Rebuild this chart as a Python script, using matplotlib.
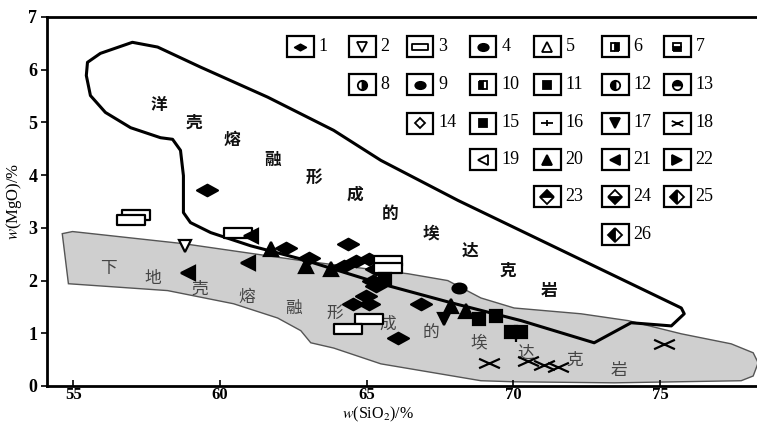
import matplotlib
matplotlib.use("Agg")
import matplotlib.pyplot as plt
from matplotlib.path import Path
from matplotlib.patches import Polygon, Rectangle
import numpy as np

plt.rcParams['font.family'] = ['Liberation Serif', 'Noto Sans CJK SC', 'DejaVu Sans']
plt.rcParams['mathtext.fontset'] = 'stix'

# ---------------- data ----------------
# ocean-crust adakite field outline (SiO2, MgO)
ocean_x = [55.48, 55.44, 55.58, 56.09, 56.95, 57.97, 58.38, 58.65, 58.75, 58.75, 58.99, 59.68,
           61.04, 62.75, 65.48, 67.87, 70.26, 72.75, 74.01, 75.38, 75.82, 75.72, 68.11, 65.48,
           63.87, 61.62, 59.33, 57.87, 57.01, 55.92]
ocean_y = [6.14, 5.89, 5.51, 5.19, 4.90, 4.71, 4.68, 4.47, 3.99, 3.29, 3.10, 2.91,
           2.66, 2.41, 1.94, 1.58, 1.24, 0.82, 1.20, 1.14, 1.37, 1.48, 3.52, 4.28,
           4.85, 5.48, 6.05, 6.43, 6.52, 6.31]
# lower-crust adakite field outline
lower_x = [54.62, 54.97, 58.75, 62.75, 65.48, 66.40, 67.76, 68.89, 70.02, 72.30, 73.91, 75.72,
           77.42, 78.17, 78.34, 78.17, 77.76, 73.43, 70.02, 68.89, 65.48, 63.87, 63.09, 62.75,
           61.96, 60.46, 58.21, 54.83]
lower_y = [2.89, 2.93, 2.70, 2.38, 2.19, 2.13, 2.00, 1.67, 1.48, 1.37, 1.24, 0.99,
           0.80, 0.63, 0.44, 0.19, 0.10, 0.06, 0.08, 0.10, 0.42, 0.72, 0.82, 1.05,
           1.29, 1.56, 1.81, 1.94]

# samples by legend type
t1_x = [59.57, 62.24, 63.02, 64.35, 64.22, 64.62, 65.07, 65.31, 65.20, 64.97, 64.52, 65.07, 66.06, 66.84, 65.31]
t1_y = [3.71, 2.62, 2.43, 2.70, 2.28, 2.38, 2.41, 2.22, 2.00, 1.71, 1.56, 1.56, 0.91, 1.56, 1.90]
t2_x = [58.82]
t2_y = [2.66]
t3_x = [57.12, 56.98, 60.60, 65.72, 65.72, 65.07, 64.35]
t3_y = [3.25, 3.14, 2.91, 2.38, 2.24, 1.27, 1.08]
t4_x = [68.14]
t4_y = [1.86]
t15_x = [68.82, 69.40, 69.91, 70.26, 65.61]
t15_y = [1.27, 1.33, 1.03, 1.03, 2.03]
t16_x = [70.09]
t16_y = [0.95]
t17_x = [67.63]
t17_y = [1.27]
t18_x = [69.16, 70.49, 71.04, 71.52, 75.14]
t18_y = [0.44, 0.48, 0.40, 0.36, 0.80]
t20_x = [61.72, 62.92, 63.77, 67.87, 68.38]
t20_y = [2.60, 2.28, 2.22, 1.52, 1.43]
t21_x = [58.92, 60.94, 61.04]
t21_y = [2.15, 2.34, 2.85]

legend_labels = [str(i) for i in range(1, 27)]

ocean_text = "洋壳熔融形成的埃达克岩"
lower_text = "下地壳熔融形成的埃达克岩"
ocean_text_x = [57.9, 59.1, 60.4, 61.8, 63.2, 64.6, 65.8, 67.2, 68.5, 69.8, 71.2]
ocean_text_y = [5.33, 5.00, 4.67, 4.28, 3.95, 3.63, 3.27, 2.89, 2.56, 2.19, 1.81]
lower_text_x = [56.2, 57.7, 59.3, 60.9, 62.5, 63.9, 65.7, 67.2, 68.8, 70.4, 72.1, 73.6]
lower_text_y = [2.22, 2.03, 1.84, 1.67, 1.48, 1.37, 1.18, 0.99, 0.82, 0.63, 0.48, 0.29]

# ---------------- marker shapes ----------------
flat_diamond = Path([(-1, 0), (0, 0.55), (1, 0), (0, -0.55), (-1, 0)],
                    [Path.MOVETO, Path.LINETO, Path.LINETO, Path.LINETO, Path.CLOSEPOLY])
flat_rect = Path([(-1, -0.33), (1, -0.33), (1, 0.33), (-1, 0.33), (-1, -0.33)],
                 [Path.MOVETO, Path.LINETO, Path.LINETO, Path.LINETO, Path.CLOSEPOLY])
flat_x = Path([(-1, -0.45), (1, 0.45), (-1, 0.45), (1, -0.45)],
              [Path.MOVETO, Path.LINETO, Path.MOVETO, Path.LINETO])
flat_plus = Path([(-1, 0), (1, 0), (0, -0.5), (0, 0.5)],
                 [Path.MOVETO, Path.LINETO, Path.MOVETO, Path.LINETO])
flat_ell = Path.unit_circle().transformed(matplotlib.transforms.Affine2D().scale(1, 0.7))

K = 'black'
W = 'white'
# (marker, facecolor, fillstyle, size)
styles = {
    1: (flat_diamond, K, 'full', 15),
    2: ('v', W, 'full', 9),
    3: (flat_rect, W, 'full', 20),
    4: (flat_ell, K, 'full', 10),
    5: ('^', W, 'full', 9),
    6: ('s', K, 'right', 8),
    7: ('s', K, 'bottom', 8),
    8: ('o', K, 'right', 9),
    9: (flat_ell, K, 'full', 10),
    10: ('s', K, 'left', 8),
    11: ('s', K, 'full', 7),
    12: ('o', K, 'left', 9),
    13: ('o', K, 'top', 9),
    14: ('D', W, 'full', 7),
    15: ('s', K, 'full', 8),
    16: (flat_plus, K, 'full', 16),
    17: ('v', K, 'full', 9),
    18: (flat_x, K, 'full', 15),
    19: ('<', W, 'full', 9),
    20: ('^', K, 'full', 10),
    21: ('<', K, 'full', 10),
    22: ('>', K, 'full', 9),
    23: ('D', K, 'top', 9),
    24: ('D', K, 'bottom', 9),
    25: ('D', K, 'left', 9),
    26: ('D', K, 'left', 9),
}

def mstyle(t, scale=1.0, mew=1.6):
    m, fc, fs, s = styles[t]
    kw = dict(marker=m, markersize=s * scale, markeredgecolor=K, markeredgewidth=mew,
              linestyle='none', fillstyle=fs)
    if fs == 'full':
        kw['markerfacecolor'] = fc
    else:
        kw['markerfacecolor'] = K
        kw['markerfacecoloralt'] = W
    return kw

# ---------------- figure ----------------
fig = plt.figure(figsize=(7.57, 4.25), dpi=100)
ax = fig.add_axes([47 / 757, (425 - 386) / 425, 710 / 757, 369 / 425])
ax.set_xlim(54.1, 78.3)
ax.set_ylim(0, 7)

ax.add_patch(Polygon(np.column_stack([lower_x, lower_y]), closed=True,
                     facecolor='#cfcfcf', edgecolor='#555555', linewidth=1.0, zorder=1))
ax.add_patch(Polygon(np.column_stack([ocean_x, ocean_y]), closed=True,
                     facecolor='none', edgecolor='black', linewidth=2.2, zorder=2,
                     joinstyle='round'))

for ch, x, y in zip(ocean_text, ocean_text_x, ocean_text_y):
    ax.text(x, y, ch, fontsize=12, fontweight='bold', ha='center', va='center',
            family=['Noto Sans CJK SC'], color='#111111', zorder=3)
for ch, x, y in zip(lower_text, lower_text_x, lower_text_y):
    ax.text(x, y, ch, fontsize=12, ha='center', va='center',
            family=['Noto Sans CJK SC'], color='#444444', zorder=3)

series = [(1, t1_x, t1_y), (2, t2_x, t2_y), (3, t3_x, t3_y), (4, t4_x, t4_y),
          (15, t15_x, t15_y), (16, t16_x, t16_y), (17, t17_x, t17_y), (18, t18_x, t18_y),
          (20, t20_x, t20_y), (21, t21_x, t21_y)]
for t, xs, ys in series:
    ax.plot(xs, ys, zorder=5, **mstyle(t))

# legend grid (boxed symbols)
col_px = [300, 362, 420, 483, 547, 615, 677]
row_px = [47, 85, 123, 160, 197, 235]
layout = [(0, 0), (0, 1), (0, 2), (0, 3), (0, 4), (0, 5), (0, 6),
          (1, 1), (1, 2), (1, 3), (1, 4), (1, 5), (1, 6),
          (2, 2), (2, 3), (2, 4), (2, 5), (2, 6),
          (3, 3), (3, 4), (3, 5), (3, 6),
          (4, 4), (4, 5), (4, 6),
          (5, 5)]
bw, bh = 27 / 710, 21 / 369
for i, (r, c) in enumerate(layout):
    cx = (col_px[c] - 47) / 710
    cy = (386 - row_px[r]) / 369
    ax.add_patch(Rectangle((cx - bw / 2, cy - bh / 2), bw, bh, transform=ax.transAxes,
                           facecolor='white', edgecolor='black', linewidth=1.6, zorder=6))
    sc = 0.55 if (i + 1) in (3, 16, 18, 1) else 0.75
    ax.plot([cx], [cy], transform=ax.transAxes, zorder=7, **mstyle(i + 1, sc, 1.3))
    ax.text(cx + bw / 2 + 5 / 710, cy, legend_labels[i], transform=ax.transAxes,
            fontsize=13, ha='left', va='center', zorder=7)

ax.spines['right'].set_visible(False)
for s in ['left', 'bottom', 'top']:
    ax.spines[s].set_linewidth(2.0)

ax.set_xticks([55, 60, 65, 70, 75])
ax.set_yticks(range(0, 8))
ax.tick_params(axis='x', direction='in', length=4, width=1.2, labelsize=12, pad=1)
ax.tick_params(axis='y', direction='out', length=4, width=1.2, labelsize=13, pad=3)
for lab in ax.get_xticklabels() + ax.get_yticklabels():
    lab.set_fontweight('bold')

ax.set_xlabel(r'$w$(SiO$_2$)/%', fontsize=11.5)
ax.xaxis.set_label_coords(0.466, -0.052)
ax.set_ylabel(r'$w$(MgO)/%', fontsize=12)
ax.yaxis.set_label_coords(-0.032, 0.5)

fig.savefig('out.png', dpi=100)
